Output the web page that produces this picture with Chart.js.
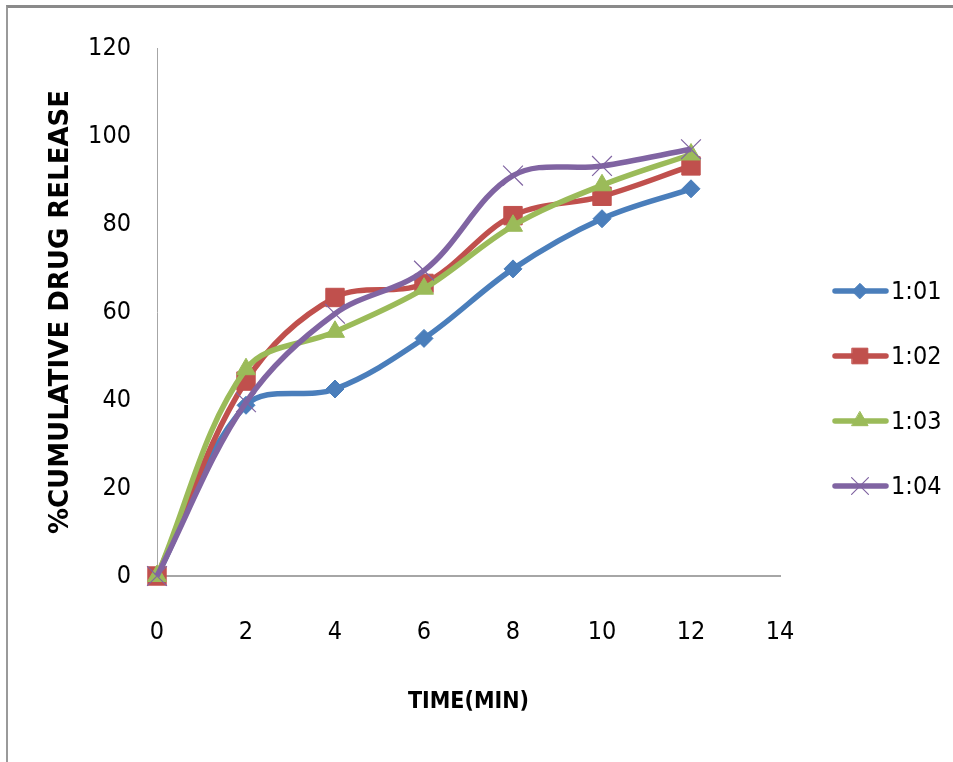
<!DOCTYPE html>
<html>
<head>
<meta charset="utf-8">
<script src="https://cdn.jsdelivr.net/npm/chart.js@4.4.0/dist/chart.umd.min.js"></script>
<style>
  body { margin: 0; background: #fff; }
  #wrap { position: relative; width: 953px; height: 762px; }
  #frame { position: absolute; left: 6px; top: 5px; right: 0; bottom: 0; border-top: 3px solid #8a8a8a; border-left: 2px solid #9a9a9a; pointer-events: none; }
  canvas { position: absolute; left: 0; top: 0; }
</style>
</head>
<body>
<div id="wrap">
  <canvas id="chart" width="953" height="762"></canvas>
  <div id="frame"></div>
</div>
<script>
const times = [0, 2, 4, 6, 8, 10, 12];
const seriesNames = ['1:01', '1:02', '1:03', '1:04'];
const ratio1 = [0, 38.8, 42.5, 54, 69.8, 81.2, 88];
const ratio2 = [0, 44.3, 63.3, 66.5, 81.9, 86.3, 93.2];
const ratio3 = [0, 47, 55.5, 65.3, 79.6, 88.8, 95.8];
const ratio4 = [0, 39.5, 59.6, 69.4, 91, 93.2, 97];

const colors = ['#4A7EBB', '#C0504D', '#9BBB59', '#8064A2'];
const styles = ['rectRot', 'rect', 'triangle', 'crossRot'];
const radii = [9, 13, 11, 14];

const FONT = "'Liberation Sans Narrow', 'DejaVu Sans Condensed', 'Liberation Sans', sans-serif";

function pts(vals) {
    return vals.map((v, i) => ({ x: times[i], y: v }));
}

const all = [ratio1, ratio2, ratio3, ratio4];
const datasets = all.map((vals, i) => ({
    label: seriesNames[i],
    data: pts(vals),
    borderColor: colors[i],
    backgroundColor: colors[i],
    pointBackgroundColor: colors[i],
    pointBorderColor: colors[i],
    pointBorderWidth: i == 3 ? 1.2 : 1,
    pointStyle: styles[i],
    pointRadius: radii[i],
    pointHoverRadius: radii[i],
    borderWidth: 5.5,
    tension: 0.35,
    clip: false,
    order: 4 - i
}));

// legend drawn as line + marker like the original
const sideLegend = {
    id: 'sideLegend',
    afterDraw(chart) {
        const ctx = chart.ctx;
        const ys = [291, 356, 421, 486];
        chart.data.datasets.forEach((ds, i) => {
            const y = ys[i];
            ctx.save();
            ctx.strokeStyle = ds.borderColor;
            ctx.lineWidth = 5.5;
            ctx.lineCap = 'round';
            ctx.beginPath();
            ctx.moveTo(835, y);
            ctx.lineTo(886, y);
            ctx.stroke();
            ctx.fillStyle = ds.pointBackgroundColor;
            ctx.strokeStyle = ds.pointBorderColor;
            ctx.lineWidth = ds.pointBorderWidth;
            Chart.helpers.drawPoint(ctx, { pointStyle: ds.pointStyle, rotation: 0, radius: ds.pointRadius * 0.85, borderWidth: ds.pointBorderWidth }, 860, y);
            ctx.fillStyle = '#000';
            ctx.font = '25px ' + FONT;
            ctx.textBaseline = 'middle';
            ctx.textAlign = 'left';
            ctx.fillText(ds.label, 891, y + 1);
            ctx.restore();
        });
    }
};

const ctx = document.getElementById('chart').getContext('2d');
const chart = new Chart(ctx, {
    type: 'line',
    data: { datasets: datasets },
    plugins: [sideLegend],
    options: {
        responsive: false,
        animation: false,
        layout: { padding: { left: 0, top: 48, right: 173, bottom: 0 } },
        plugins: {
            legend: { display: false },
            tooltip: { enabled: false }
        },
        scales: {
            x: {
                type: 'linear',
                min: 0,
                max: 14,
                ticks: { stepSize: 2, padding: 41, color: '#000', font: { family: FONT, size: 25 } },
                grid: { display: false, drawTicks: false },
                border: { display: true, color: '#a6a6a6', width: 2 },
                title: { display: true, text: 'TIME(MIN)', color: '#000', font: { family: FONT, size: 23, weight: 'bold' }, padding: { top: 0, bottom: 46 } },
                afterFit(scale) { scale.height = 186; }
            },
            y: {
                min: 0,
                max: 120,
                ticks: { stepSize: 20, padding: 26, color: '#000', font: { family: FONT, size: 25 } },
                grid: { display: false, drawTicks: false },
                border: { display: true, color: '#a6a6a6', width: 1 },
                title: { display: true, text: '%CUMULATIVE DRUG RELEASE', color: '#000', font: { family: "'DejaVu Sans', sans-serif", size: 26, weight: 'bold' }, padding: { top: 46, bottom: 0 } },
                afterFit(scale) { scale.width = 157; }
            }
        }
    }
});
</script>
</body>
</html>
